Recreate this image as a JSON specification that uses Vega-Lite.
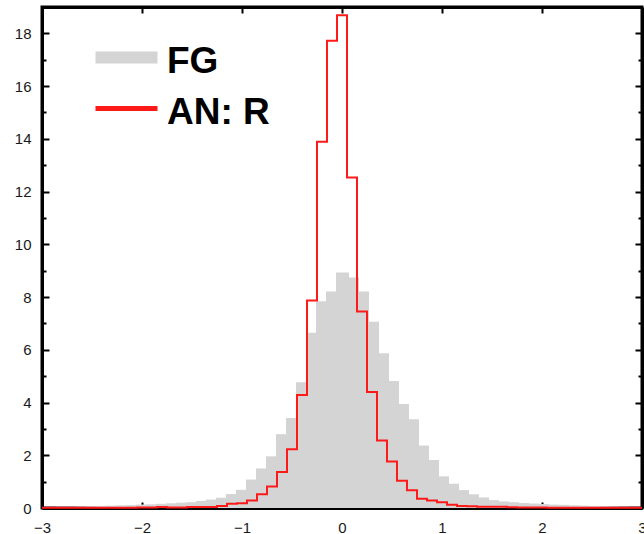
{
  "$schema": "https://vega.github.io/schema/vega-lite/v6.json",
  "width": 600,
  "height": 501,
  "autosize": {"type": "none"},
  "padding": {"left": 42, "top": 7, "right": 2, "bottom": 26},
  "background": "white",
  "config": {
    "view": {"stroke": "black", "strokeWidth": 3},
    "axis": {
      "grid": false,
      "domainColor": "black",
      "domainWidth": 3,
      "tickColor": "black",
      "tickWidth": 2,
      "labelFont": "Liberation Sans",
      "labelFontSize": 15,
      "labelColor": "#1a1a1a",
      "title": null,
      "zindex": 1,
      "labelFlush": false,
      "labelOverlap": false
    }
  },
  "datasets": {
    "fg": [
      {"x0": -3.0, "x1": -2.96, "density": 0.04},
      {"x0": -2.96, "x1": -2.86, "density": 0.04},
      {"x0": -2.86, "x1": -2.76, "density": 0.05},
      {"x0": -2.76, "x1": -2.66, "density": 0.05},
      {"x0": -2.66, "x1": -2.56, "density": 0.06},
      {"x0": -2.56, "x1": -2.46, "density": 0.07},
      {"x0": -2.46, "x1": -2.36, "density": 0.08},
      {"x0": -2.36, "x1": -2.26, "density": 0.09},
      {"x0": -2.26, "x1": -2.16, "density": 0.10},
      {"x0": -2.16, "x1": -2.06, "density": 0.11},
      {"x0": -2.06, "x1": -1.96, "density": 0.13},
      {"x0": -1.96, "x1": -1.86, "density": 0.14},
      {"x0": -1.86, "x1": -1.76, "density": 0.16},
      {"x0": -1.76, "x1": -1.66, "density": 0.18},
      {"x0": -1.66, "x1": -1.56, "density": 0.20},
      {"x0": -1.56, "x1": -1.46, "density": 0.22},
      {"x0": -1.46, "x1": -1.36, "density": 0.27},
      {"x0": -1.36, "x1": -1.26, "density": 0.32},
      {"x0": -1.26, "x1": -1.16, "density": 0.39},
      {"x0": -1.16, "x1": -1.06, "density": 0.53},
      {"x0": -1.06, "x1": -0.96, "density": 0.69},
      {"x0": -0.96, "x1": -0.86, "density": 1.08},
      {"x0": -0.86, "x1": -0.76, "density": 1.50},
      {"x0": -0.76, "x1": -0.66, "density": 1.96},
      {"x0": -0.66, "x1": -0.56, "density": 2.80},
      {"x0": -0.56, "x1": -0.46, "density": 3.41},
      {"x0": -0.46, "x1": -0.36, "density": 4.77},
      {"x0": -0.36, "x1": -0.26, "density": 6.65},
      {"x0": -0.26, "x1": -0.16, "density": 7.84},
      {"x0": -0.16, "x1": -0.06, "density": 8.21},
      {"x0": -0.06, "x1": 0.07, "density": 8.93},
      {"x0": 0.07, "x1": 0.17, "density": 8.74},
      {"x0": 0.17, "x1": 0.27, "density": 8.21},
      {"x0": 0.27, "x1": 0.37, "density": 7.06},
      {"x0": 0.37, "x1": 0.47, "density": 5.87},
      {"x0": 0.47, "x1": 0.57, "density": 4.82},
      {"x0": 0.57, "x1": 0.67, "density": 3.94},
      {"x0": 0.67, "x1": 0.77, "density": 3.37},
      {"x0": 0.77, "x1": 0.87, "density": 2.37},
      {"x0": 0.87, "x1": 0.97, "density": 1.82},
      {"x0": 0.97, "x1": 1.07, "density": 1.20},
      {"x0": 1.07, "x1": 1.17, "density": 0.92},
      {"x0": 1.17, "x1": 1.27, "density": 0.68},
      {"x0": 1.27, "x1": 1.37, "density": 0.52},
      {"x0": 1.37, "x1": 1.47, "density": 0.40},
      {"x0": 1.47, "x1": 1.57, "density": 0.30},
      {"x0": 1.57, "x1": 1.67, "density": 0.25},
      {"x0": 1.67, "x1": 1.77, "density": 0.22},
      {"x0": 1.77, "x1": 1.87, "density": 0.19},
      {"x0": 1.87, "x1": 1.97, "density": 0.17},
      {"x0": 1.97, "x1": 2.07, "density": 0.15},
      {"x0": 2.07, "x1": 2.17, "density": 0.13},
      {"x0": 2.17, "x1": 2.27, "density": 0.12},
      {"x0": 2.27, "x1": 2.37, "density": 0.10},
      {"x0": 2.37, "x1": 2.47, "density": 0.09},
      {"x0": 2.47, "x1": 2.57, "density": 0.08},
      {"x0": 2.57, "x1": 2.67, "density": 0.07},
      {"x0": 2.67, "x1": 2.77, "density": 0.06},
      {"x0": 2.77, "x1": 2.87, "density": 0.05},
      {"x0": 2.87, "x1": 2.97, "density": 0.04},
      {"x0": 2.97, "x1": 3.0, "density": 0.04}
    ],
    "an": [
      {"x": -3.0, "density": 0.01},
      {"x": -2.95, "density": 0.01},
      {"x": -2.85, "density": 0.01},
      {"x": -2.75, "density": 0.01},
      {"x": -2.65, "density": 0.01},
      {"x": -2.55, "density": 0.01},
      {"x": -2.45, "density": 0.01},
      {"x": -2.35, "density": 0.01},
      {"x": -2.25, "density": 0.01},
      {"x": -2.15, "density": 0.01},
      {"x": -2.05, "density": 0.02},
      {"x": -1.95, "density": 0.02},
      {"x": -1.85, "density": 0.04},
      {"x": -1.75, "density": 0.02},
      {"x": -1.65, "density": 0.02},
      {"x": -1.55, "density": 0.04},
      {"x": -1.45, "density": 0.04},
      {"x": -1.35, "density": 0.04},
      {"x": -1.25, "density": 0.08},
      {"x": -1.15, "density": 0.16},
      {"x": -1.05, "density": 0.18},
      {"x": -0.95, "density": 0.28},
      {"x": -0.85, "density": 0.52},
      {"x": -0.75, "density": 0.82},
      {"x": -0.65, "density": 1.37},
      {"x": -0.55, "density": 2.23},
      {"x": -0.45, "density": 4.29},
      {"x": -0.35, "density": 7.87},
      {"x": -0.25, "density": 13.89},
      {"x": -0.15, "density": 17.72},
      {"x": -0.05, "density": 18.69},
      {"x": 0.05, "density": 12.53},
      {"x": 0.15, "density": 7.45},
      {"x": 0.25, "density": 4.40},
      {"x": 0.35, "density": 2.56},
      {"x": 0.45, "density": 1.76},
      {"x": 0.55, "density": 1.03},
      {"x": 0.65, "density": 0.67},
      {"x": 0.75, "density": 0.35},
      {"x": 0.85, "density": 0.28},
      {"x": 0.95, "density": 0.22},
      {"x": 1.05, "density": 0.12},
      {"x": 1.15, "density": 0.08},
      {"x": 1.25, "density": 0.07},
      {"x": 1.35, "density": 0.05},
      {"x": 1.45, "density": 0.05},
      {"x": 1.55, "density": 0.05},
      {"x": 1.65, "density": 0.03},
      {"x": 1.75, "density": 0.02},
      {"x": 1.85, "density": 0.02},
      {"x": 1.95, "density": 0.02},
      {"x": 2.05, "density": 0.01},
      {"x": 2.15, "density": 0.01},
      {"x": 2.25, "density": 0.01},
      {"x": 2.35, "density": 0.01},
      {"x": 2.45, "density": 0.01},
      {"x": 2.55, "density": 0.01},
      {"x": 2.65, "density": 0.01},
      {"x": 2.75, "density": 0.01},
      {"x": 2.85, "density": 0.01},
      {"x": 2.95, "density": 0.01},
      {"x": 3.0, "density": 0.01}
    ]
  },
  "layer": [
    {
      "data": {"name": "fg"},
      "mark": {"type": "rect", "strokeWidth": 0},
      "encoding": {
        "x": {
          "field": "x0", "type": "quantitative",
          "scale": {"domain": [-3, 3], "nice": false, "zero": false},
          "axis": {"orient": "bottom", "values": [-3, -2, -1, 0, 1, 2, 3], "tickSize": -6, "labelPadding": 18}
        },
        "x2": {"field": "x1"},
        "y": {
          "field": "density", "type": "quantitative",
          "scale": {"domain": [0, 19], "nice": false, "zero": true},
          "axis": {
            "orient": "left",
            "values": [0,1,2,3,4,5,6,7,8,9,10,11,12,13,14,15,16,17,18,19],
            "labelExpr": "datum.value % 2 === 0 ? datum.label : ''",
            "tickSize": {"condition": {"test": "datum.value % 2 === 0", "value": -7}, "value": -4},
            "labelPadding": 18
          }
        },
        "y2": {"datum": 0},
        "color": {
          "datum": "FG",
          "scale": {"domain": ["FG", "AN: R"], "range": ["#d4d4d4", "#ff1a1a"]},
          "legend": {
            "title": null,
            "orient": "none",
            "legendX": 66,
            "legendY": 32,
            "padding": 0,
            "symbolType": "stroke",
            "symbolSize": 3844,
            "symbolStrokeWidth": 12,
            "labelFont": "Liberation Sans",
            "labelFontSize": 37,
            "labelFontWeight": "bold",
            "labelColor": "black",
            "labelOffset": 22,
            "rowPadding": 8,
            "encode": {
              "symbols": {
                "update": {
                  "strokeWidth": {"signal": "datum.value === 'FG' ? 12 : 5"},
                  "stroke": {"signal": "datum.value === 'FG' ? '#c4c4c4' : '#ff3c00'"},
                  "fill": {"value": "transparent"}
                }
              },
              "labels": {"update": {"dy": {"value": 4}}}
            }
          }
        }
      }
    },
    {
      "data": {"name": "an"},
      "mark": {"type": "line", "interpolate": "step-after", "strokeWidth": 2},
      "encoding": {
        "x": {
          "field": "x", "type": "quantitative",
          "axis": {"orient": "top", "values": [-3, -2, -1, 0, 1, 2, 3], "tickSize": -6, "labels": false}
        },
        "y": {
          "field": "density", "type": "quantitative",
          "axis": {
            "orient": "right",
            "values": [0,1,2,3,4,5,6,7,8,9,10,11,12,13,14,15,16,17,18,19],
            "labels": false,
            "tickSize": {"condition": {"test": "datum.value % 2 === 0", "value": -7}, "value": -4}
          }
        },
        "color": {"datum": "AN: R"}
      }
    }
  ],
  "resolve": {"axis": {"x": "independent", "y": "independent"}}
}
